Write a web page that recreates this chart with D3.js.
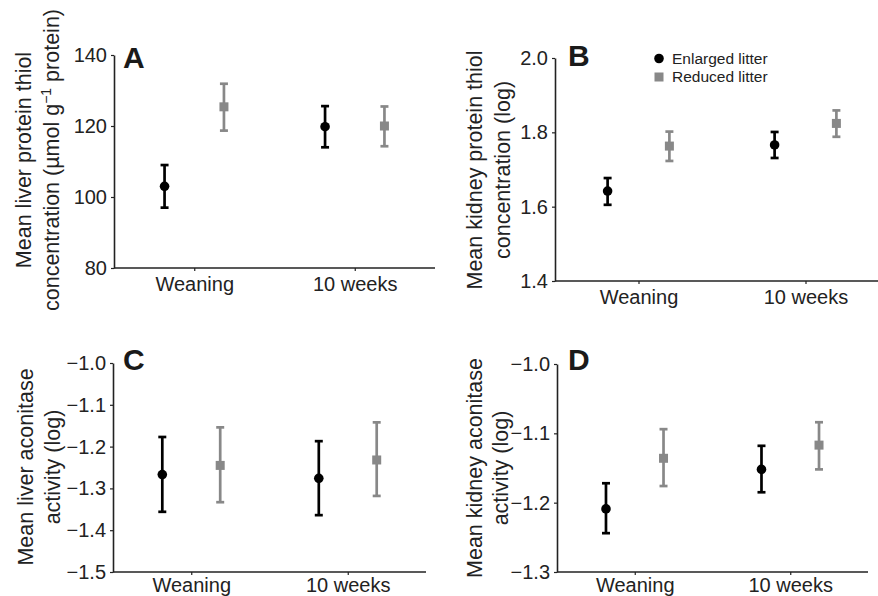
<!DOCTYPE html>
<html>
<head>
<meta charset="utf-8">
<script src="https://cdn.jsdelivr.net/npm/d3@7"></script>
<style>
  html, body { margin: 0; padding: 0; background: #fff; }
  svg { display: block; font-family: "Liberation Sans", Arial, Helvetica, sans-serif; }
</style>
</head>
<body>
<svg id="chart" width="878" height="596"></svg>
<script>
// ---------- DATA ----------
const categories = ["Weaning", "10 weeks"];
const seriesNames = ["Enlarged litter", "Reduced litter"];

// Panel A: liver protein thiol (µmol g-1 protein)
const aEnlargedMean = [103.0, 119.8];
const aEnlargedLow  = [97.0, 114.0];
const aEnlargedHigh = [109.0, 125.6];
const aReducedMean  = [125.4, 120.0];
const aReducedLow   = [118.7, 114.3];
const aReducedHigh  = [131.9, 125.5];
const aTicks = [80, 100, 120, 140];

// Panel B: kidney protein thiol (log)
const bEnlargedMean = [1.642, 1.766];
const bEnlargedLow  = [1.605, 1.731];
const bEnlargedHigh = [1.677, 1.801];
const bReducedMean  = [1.763, 1.824];
const bReducedLow   = [1.723, 1.788];
const bReducedHigh  = [1.802, 1.859];
const bTicks = [1.4, 1.6, 1.8, 2.0];

// Panel C: liver aconitase activity (log)
const cEnlargedMean = [-1.267, -1.276];
const cEnlargedLow  = [-1.356, -1.364];
const cEnlargedHigh = [-1.177, -1.187];
const cReducedMean  = [-1.245, -1.232];
const cReducedLow   = [-1.333, -1.318];
const cReducedHigh  = [-1.154, -1.142];
const cTicks = [-1.5, -1.4, -1.3, -1.2, -1.1, -1.0];

// Panel D: kidney aconitase activity (log)
const dEnlargedMean = [-1.209, -1.152];
const dEnlargedLow  = [-1.244, -1.185];
const dEnlargedHigh = [-1.172, -1.118];
const dReducedMean  = [-1.136, -1.117];
const dReducedLow   = [-1.176, -1.152];
const dReducedHigh  = [-1.094, -1.084];
const dTicks = [-1.3, -1.2, -1.1, -1.0];

// ---------- LAYOUT ----------
const colors = { "Enlarged litter": "#000000", "Reduced litter": "#888888" };
const svg = d3.select("#chart");

function rows(mE, lE, hE, mR, lR, hR) {
  const out = [];
  categories.forEach((c, i) => {
    out.push({ cat: c, series: seriesNames[0], mean: mE[i], lo: lE[i], hi: hE[i] });
    out.push({ cat: c, series: seriesNames[1], mean: mR[i], lo: lR[i], hi: hR[i] });
  });
  return out;
}

const minus = s => s.replace("-", "\u2212");

const panels = [
  { label: "A", x0: 114, x1: 435, y0: 55, y1: 268, domain: [80, 140], ticks: aTicks,
    fmt: d => d3.format("d")(d), xPad: 6,
    data: rows(aEnlargedMean, aEnlargedLow, aEnlargedHigh, aReducedMean, aReducedLow, aReducedHigh),
    titleLines: ["Mean liver protein thiol", "concentration (\u00b5mol g|\u22121| protein)"],
    titleX: [31, 59], titleY: 160, labelPos: [123, 68] },
  { label: "B", x0: 555, x1: 889, y0: 58, y1: 281, domain: [1.4, 2.0], ticks: bTicks,
    fmt: d => d3.format(".1f")(d), xPad: 6,
    data: rows(bEnlargedMean, bEnlargedLow, bEnlargedHigh, bReducedMean, bReducedLow, bReducedHigh),
    titleLines: ["Mean kidney protein thiol", "concentration (log)"],
    titleX: [482, 510], titleY: 170, labelPos: [568, 66], legend: [659, 58.5] },
  { label: "C", x0: 113, x1: 426, y0: 363, y1: 572, domain: [-1.5, -1.0], ticks: cTicks,
    fmt: d => minus(d3.format(".1f")(d)), xPad: 3,
    data: rows(cEnlargedMean, cEnlargedLow, cEnlargedHigh, cReducedMean, cReducedLow, cReducedHigh),
    titleLines: ["Mean liver aconitase", "activity (log)"],
    titleX: [33, 60], titleY: 467, labelPos: [123, 370] },
  { label: "D", x0: 557, x1: 868, y0: 364, y1: 572, domain: [-1.3, -1.0], ticks: dTicks,
    fmt: d => minus(d3.format(".1f")(d)), xPad: 3,
    data: rows(dEnlargedMean, dEnlargedLow, dEnlargedHigh, dReducedMean, dReducedLow, dReducedHigh),
    titleLines: ["Mean kidney aconitase", "activity (log)"],
    titleX: [482, 508], titleY: 468, labelPos: [568, 370] }
];

const axisColor = "#222";
const textColor = "#222";

panels.forEach(p => {
  const g = svg.append("g");
  const x = d3.scalePoint().domain(categories).range([p.x0, p.x1]).padding(0.5);
  const off = x.step() * 0.185;
  const sx = d3.scalePoint().domain(seriesNames).range([-off, off]);
  const y = d3.scaleLinear().domain(p.domain).range([p.y1, p.y0]);

  // y axis
  const ya = g.append("g").attr("transform", `translate(${p.x0},0)`)
    .call(d3.axisLeft(y).tickValues(p.ticks).tickFormat(p.fmt).tickSize(3).tickPadding(4).tickSizeOuter(0));
  // x axis
  const xa = g.append("g").attr("transform", `translate(0,${p.y1})`)
    .call(d3.axisBottom(x).tickSize(3).tickPadding(p.xPad).tickSizeOuter(0));
  [ya, xa].forEach(a => {
    a.select(".domain").attr("stroke", axisColor).attr("stroke-width", 1.6);
    a.selectAll(".tick line").attr("stroke", axisColor).attr("stroke-width", 1.2);
    a.selectAll(".tick text").attr("fill", textColor).attr("font-size", 20);
  });
  xa.select(".domain").attr("d", `M${p.x0},0H${p.x1}`);

  // error bars
  const capW = 4;
  const eb = g.append("g").selectAll("g").data(p.data).join("g")
    .attr("stroke", d => colors[d.series]).attr("stroke-width", 2.7).attr("fill", "none");
  eb.append("line")
    .attr("x1", d => x(d.cat) + sx(d.series)).attr("x2", d => x(d.cat) + sx(d.series))
    .attr("y1", d => y(d.lo)).attr("y2", d => y(d.hi));
  eb.append("line")
    .attr("x1", d => x(d.cat) + sx(d.series) - capW).attr("x2", d => x(d.cat) + sx(d.series) + capW)
    .attr("y1", d => y(d.lo)).attr("y2", d => y(d.lo));
  eb.append("line")
    .attr("x1", d => x(d.cat) + sx(d.series) - capW).attr("x2", d => x(d.cat) + sx(d.series) + capW)
    .attr("y1", d => y(d.hi)).attr("y2", d => y(d.hi));

  // markers
  g.append("g").selectAll("circle").data(p.data.filter(d => d.series === seriesNames[0])).join("circle")
    .attr("cx", d => x(d.cat) + sx(d.series)).attr("cy", d => y(d.mean)).attr("r", 4.8)
    .attr("fill", colors[seriesNames[0]]);
  const sq = 9;
  g.append("g").selectAll("rect").data(p.data.filter(d => d.series === seriesNames[1])).join("rect")
    .attr("x", d => x(d.cat) + sx(d.series) - sq / 2).attr("y", d => y(d.mean) - sq / 2)
    .attr("width", sq).attr("height", sq)
    .attr("fill", colors[seriesNames[1]]);

  // panel label
  g.append("text").attr("x", p.labelPos[0]).attr("y", p.labelPos[1])
    .attr("font-size", 30).attr("font-weight", "bold").attr("fill", "#1a1a1a").text(p.label);

  // y title
  p.titleLines.forEach((line, i) => {
    const t = g.append("text")
      .attr("transform", `translate(${p.titleX[i]},${p.titleY}) rotate(-90)`)
      .attr("text-anchor", "middle").attr("font-size", 21.5).attr("fill", textColor);
    const parts = line.split("|");
    if (parts.length === 1) { t.text(line); }
    else {
      t.append("tspan").text(parts[0]);
      t.append("tspan").attr("font-size", 14).attr("dy", -8).text(parts[1]);
      t.append("tspan").attr("dy", 8).text(parts[2]);
    }
  });

  // legend
  if (p.legend) {
    const [lx, ly] = p.legend;
    const lg = g.append("g");
    seriesNames.forEach((s, i) => {
      const cy = ly + i * 18.5;
      if (i === 0) lg.append("circle").attr("cx", lx).attr("cy", cy).attr("r", 4.8).attr("fill", colors[s]);
      else lg.append("rect").attr("x", lx - 4.5).attr("y", cy - 4.5).attr("width", 9).attr("height", 9).attr("fill", colors[s]);
      lg.append("text").attr("x", lx + 13).attr("y", cy + 5).attr("font-size", 15.5).attr("fill", textColor).text(s);
    });
  }
});
</script>
</body>
</html>
